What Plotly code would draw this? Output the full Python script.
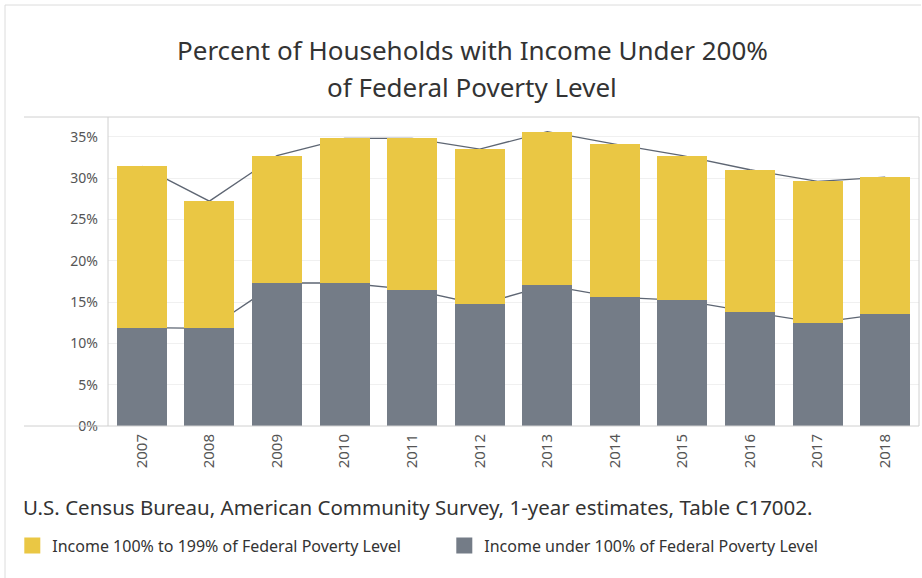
import plotly.graph_objects as go

years = ["2007", "2008", "2009", "2010", "2011", "2012", "2013", "2014", "2015", "2016", "2017", "2018"]
under_100 = [11.9, 11.8, 17.3, 17.3, 16.5, 14.7, 17.0, 15.6, 15.2, 13.8, 12.5, 13.6]
total_under_200 = [31.4, 27.2, 32.7, 34.8, 34.8, 33.5, 35.6, 34.1, 32.7, 31.0, 29.6, 30.1]
between_100_199 = [round(t - u, 2) for t, u in zip(total_under_200, under_100)]
y_ticks = [0, 5, 10, 15, 20, 25, 30, 35]
y_tick_labels = [f"{v}%" for v in y_ticks]

YELLOW = "#EAC744"
GRAY = "#747C87"
LINE = "#5E6673"
FONT = "Noto Sans"
YMAX = 37.38

fig = go.Figure()

# connecting lines (drawn on base axis, behind the bars)
fig.add_trace(go.Scatter(x=years, y=total_under_200, mode="lines",
                         line=dict(color=LINE, width=1.3), showlegend=False,
                         hoverinfo="skip", xaxis="x", yaxis="y"))
fig.add_trace(go.Scatter(x=years, y=under_100, mode="lines",
                         line=dict(color=LINE, width=1.3), showlegend=False,
                         hoverinfo="skip", xaxis="x", yaxis="y"))

# stacked bars on overlaid axis (drawn on top)
fig.add_trace(go.Bar(x=years, y=under_100, marker=dict(color=GRAY, line=dict(width=0)),
                     name="Income under 100% of Federal Poverty Level",
                     showlegend=False, yaxis="y2", width=0.74))
fig.add_trace(go.Bar(x=years, y=between_100_199, marker=dict(color=YELLOW, line=dict(width=0)),
                     name="Income 100% to 199% of Federal Poverty Level",
                     showlegend=False, yaxis="y2", width=0.74))

# legend entries
fig.add_trace(go.Scatter(x=[None], y=[None], mode="markers",
                         marker=dict(symbol="square", size=16, color=YELLOW),
                         name="Income 100% to 199% of Federal Poverty Level", yaxis="y2"))
fig.add_trace(go.Scatter(x=[None], y=[None], mode="markers",
                         marker=dict(symbol="square", size=16, color=GRAY),
                         name="Income under 100% of Federal Poverty Level", yaxis="y2"))

fig.update_layout(
    width=922, height=578,
    margin=dict(l=108, r=3, t=117, b=152),
    paper_bgcolor="white", plot_bgcolor="white",
    barmode="stack", bargap=0.26,
    font=dict(family=FONT, color="#333333"),
    xaxis=dict(type="category", categoryorder="array", categoryarray=years,
               tickangle=-90, tickfont=dict(size=15, color="#555555"),
               showgrid=False, showline=False, ticks="", zeroline=False,
               range=[-0.5, 11.5], ticklabelstandoff=4),
    yaxis=dict(range=[0, YMAX], tickvals=y_ticks, ticktext=y_tick_labels,
               tickfont=dict(size=14, color="#555555"), showgrid=True,
               gridcolor="#F0F0F0", gridwidth=1, zeroline=False, showline=False,
               ticks="", ticklabelstandoff=9),
    yaxis2=dict(range=[0, YMAX], overlaying="y", side="left", showgrid=False,
                showticklabels=False, zeroline=False, showline=False, ticks=""),
    legend=dict(orientation="h", x=-0.118, xanchor="left", y=-0.332, yanchor="top",
                font=dict(size=16, color="#333333"), itemwidth=30,
                entrywidth=387, entrywidthmode="pixels", traceorder="normal",
                bgcolor="rgba(0,0,0,0)"),
    showlegend=True,
)

# title lines
fig.add_annotation(text="Percent of Households with Income Under 200%", xref="paper", yref="paper",
                   x=(472 - 108) / 811, y=1 + (117 - 50) / 309, xanchor="center", yanchor="middle",
                   showarrow=False, font=dict(size=26, color="#333333", family=FONT))
fig.add_annotation(text="of Federal Poverty Level", xref="paper", yref="paper",
                   x=(472 - 108) / 811, y=1 + (117 - 87) / 309, xanchor="center", yanchor="middle",
                   showarrow=False, font=dict(size=26, color="#333333", family=FONT))
# source
fig.add_annotation(text="U.S. Census Bureau, American Community Survey, 1-year estimates, Table C17002.",
                   xref="paper", yref="paper", x=(21 - 108) / 811, y=-(507 - 426) / 309,
                   xanchor="left", yanchor="middle", showarrow=False,
                   font=dict(size=20.5, color="#333333", family=FONT))

# frame lines (layout decoration)
px = lambda v: (v - 108) / 811
py = lambda v: 1 - (v - 117) / 309
frame = dict(color="#D0D0D0", width=1)
for (x0, y0, x1, y1) in [
    (24, 117, 919, 117), (24, 426, 919, 426), (108, 117, 108, 426), (919, 117, 919, 426),
]:
    fig.add_shape(type="line", xref="paper", yref="paper", x0=px(x0), y0=py(y0),
                  x1=px(x1), y1=py(y1), line=frame, layer="above")
outer = dict(color="#DCDCDC", width=1)
for (x0, y0, x1, y1) in [(5, 5, 921, 5), (5, 5, 5, 578)]:
    fig.add_shape(type="line", xref="paper", yref="paper", x0=px(x0), y0=py(y0),
                  x1=px(x1), y1=py(y1), line=outer, layer="above")

fig.write_html("out.html", config={"displayModeBar": False},
               post_script="document.body.style.margin='0';document.body.style.padding='0';")
